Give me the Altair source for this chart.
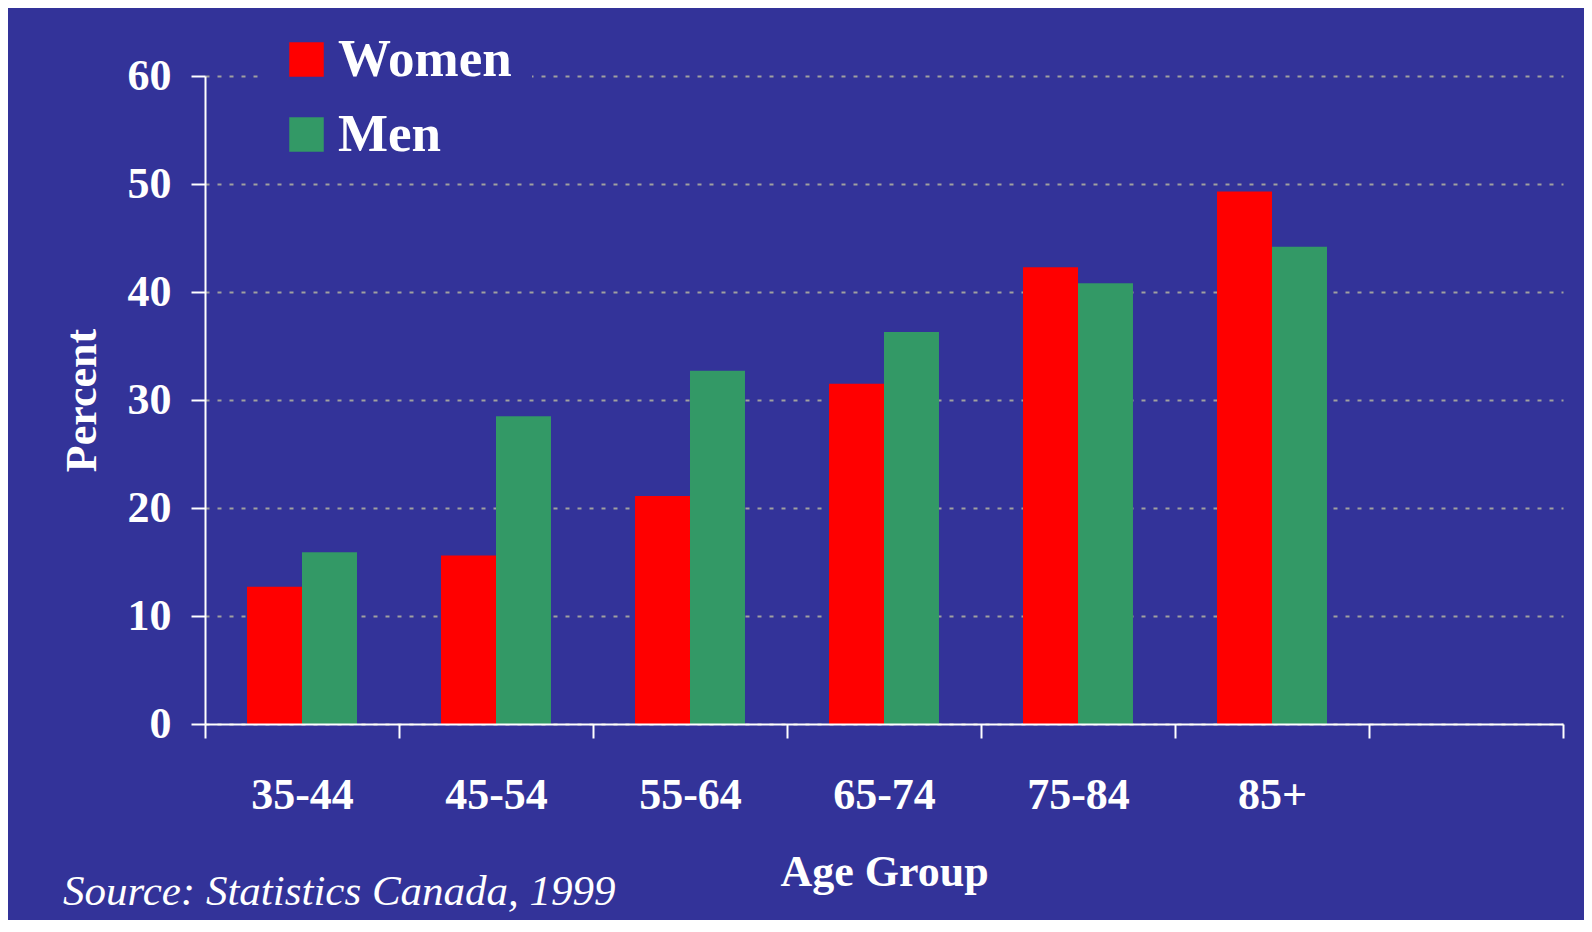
import altair as alt
import pandas as pd

# ---- data ----
age_groups = ["35-44", "45-54", "55-64", "65-74", "75-84", "85+"]
women = [12.7, 15.6, 21.1, 31.5, 42.3, 49.3]
men = [15.9, 28.5, 32.7, 36.3, 40.8, 44.2]
series = ["Women", "Men"]
series_colors = ["#FF0000", "#339966"]
y_ticks = [0, 10, 20, 30, 40, 50, 60]
empty_slot = " "
source_note = ["Source: Statistics Canada, 1999"]

rows = []
for i, g in enumerate(age_groups):
    rows.append({"Age": g, "Sex": "Women", "Percent": women[i]})
    rows.append({"Age": g, "Sex": "Men", "Percent": men[i]})
df = pd.DataFrame(rows)

BG = "#333399"
FONT = "Liberation Serif"

bars = alt.Chart(df).mark_bar().encode(
    x=alt.X(
        "Age:N",
        sort=None,
        scale=alt.Scale(domain=age_groups + [empty_slot], paddingInner=0, paddingOuter=0),
        axis=alt.Axis(
            title="Age Group",
            titleFont=FONT, titleFontSize=44, titleFontWeight="bold", titleColor="white",
            titleBaseline="alphabetic", titleY=161,
            labelFont=FONT, labelFontSize=44, labelFontWeight="bold", labelColor="white",
            labelAngle=0, labelPadding=35, labelLimit=0,
            domainColor="white", domainWidth=2,
            tickColor="white", tickWidth=2, tickSize=14, tickBand="extent",
            grid=False, zindex=1,
        ),
    ),
    xOffset=alt.XOffset(
        "Sex:N",
        sort=series,
        scale=alt.Scale(domain=series, paddingInner=0, paddingOuter=0.764),
    ),
    y=alt.Y(
        "Percent:Q",
        scale=alt.Scale(domain=[0, 60], nice=False),
        axis=alt.Axis(
            values=y_ticks,
            title="Percent",
            titleFont=FONT, titleFontSize=44, titleFontWeight="bold", titleColor="white",
            titleAngle=-90, titleBaseline="alphabetic", titleAlign="center",
            titleX=-110, titleY=324,
            labelFont=FONT, labelFontSize=44, labelFontWeight="bold", labelColor="white",
            labelPadding=20,
            domainColor="white", domainWidth=2,
            tickColor="white", tickWidth=2, tickSize=14,
            grid=True, gridColor="#A0A0A0", gridWidth=2, gridDash=[4, 8],
        ),
    ),
    color=alt.Color(
        "Sex:N",
        sort=series,
        scale=alt.Scale(domain=series, range=series_colors),
        legend=alt.Legend(
            title=None,
            orient="none", legendX=55, legendY=-63,
            fillColor=BG, padding=20,
            symbolType="square", symbolSize=1190, symbolStrokeWidth=0, symbolOpacity=1,
            labelFont=FONT, labelFontSize=53, labelFontWeight="bold", labelColor="white",
            labelOffset=5, labelLimit=0, rowPadding=21,
        ),
    ),
)

note = alt.Chart(pd.DataFrame({"t": source_note})).mark_text(
    align="left", baseline="alphabetic", font=FONT, fontStyle="italic",
    fontSize=43, color="white",
).encode(
    text="t:N",
    x=alt.value(-142),
    y=alt.value(829),
)

chart = alt.layer(bars, note).properties(
    width=1358,
    height=648,
    background=BG,
    autosize=alt.AutoSizeParams(type="none"),
    padding={"left": 197, "top": 68, "right": 21, "bottom": 196},
).configure_view(stroke=None)

chart.save("out.html", embed_options={"renderer": "svg", "actions": False})
